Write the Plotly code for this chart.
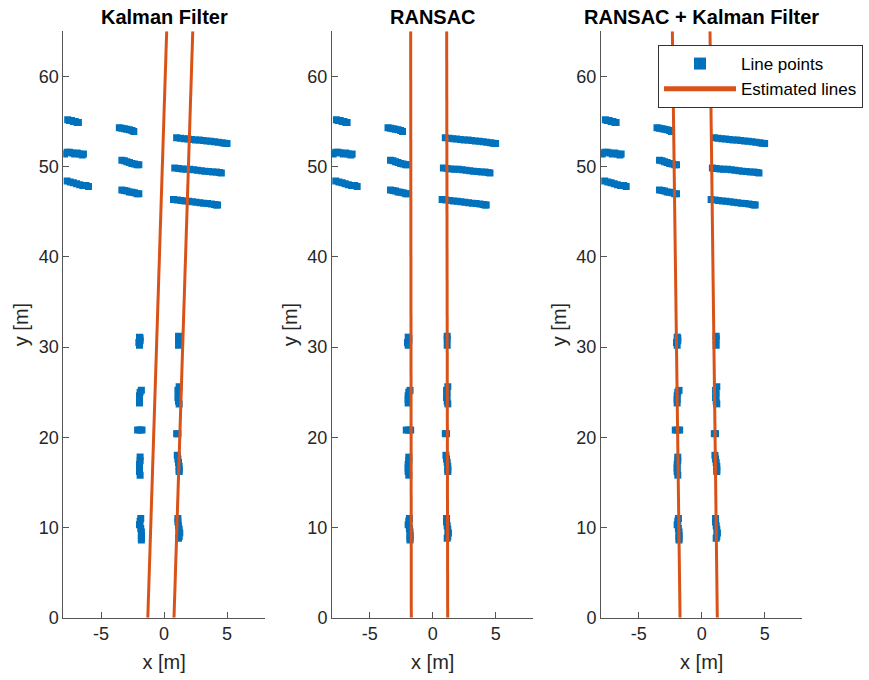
import plotly.graph_objects as go

# ---------------- data ----------------
# upper (far) line-point clusters
upper_x = [
    -7.65, -7.5, -7.35, -7.2, -7.05, -6.9, -6.8,
    -7.9, -7.7, -7.5, -7.3, -7.1, -6.9, -6.7, -6.5, -6.4,
    -7.7, -7.45, -7.2, -6.95, -6.7, -6.45, -6.2, -6.0,
    -3.55, -3.35, -3.15, -2.95, -2.75, -2.55, -2.4,
    -3.35, -3.15, -2.95, -2.75, -2.55, -2.35, -2.15, -2.0,
    -3.35, -3.15, -2.95, -2.75, -2.55, -2.35, -2.15, -2.0,
    1.0, 1.3, 1.6, 1.9, 2.2, 2.5, 2.8, 3.1, 3.4, 3.7, 4.0, 4.3, 4.6, 4.8, 5.0,
    0.85, 1.15, 1.45, 1.75, 2.05, 2.35, 2.65, 2.95, 3.25, 3.55, 3.85, 4.15, 4.4, 4.55,
    0.75, 1.05, 1.35, 1.65, 1.95, 2.25, 2.55, 2.85, 3.15, 3.45, 3.75, 4.0, 4.15, 4.25,
]
upper_y = [
    55.2, 55.1, 55.1, 55.0, 55.0, 54.9, 54.9,
    51.4, 51.6, 51.6, 51.5, 51.4, 51.5, 51.4, 51.3, 51.4,
    48.4, 48.3, 48.2, 48.1, 48.0, 47.9, 47.9, 47.8,
    54.3, 54.25, 54.2, 54.15, 54.1, 54.0, 53.9,
    50.7, 50.65, 50.55, 50.45, 50.35, 50.3, 50.2, 50.2,
    47.4, 47.35, 47.3, 47.2, 47.15, 47.1, 47.0, 47.0,
    53.2, 53.15, 53.1, 53.05, 53.0, 52.95, 52.95, 52.9, 52.85, 52.8, 52.75, 52.7, 52.65, 52.6, 52.55,
    49.85, 49.8, 49.75, 49.7, 49.7, 49.65, 49.6, 49.55, 49.5, 49.45, 49.4, 49.4, 49.35, 49.3,
    46.35, 46.3, 46.25, 46.2, 46.15, 46.1, 46.05, 46.0, 45.95, 45.9, 45.85, 45.8, 45.75, 45.75,
]
# lower (near) line-point clusters
lower_x = [
    -1.95, -2.0, -1.9, -1.9, -1.95,
    -1.95, -1.95, -1.95, -1.9, -1.8,
    -2.1, -1.9, -1.75,
    -1.9, -1.9, -1.95, -1.95, -1.95, -1.9,
    -1.85, -1.9, -1.95, -1.85, -1.8, -1.8, -1.8, -1.8,
    1.15, 1.15, 1.15,
    1.2, 1.1, 1.15, 1.1, 1.15, 1.2,
    1.0, 1.1,
    1.05, 1.1, 1.15, 1.2, 1.2, 1.2,
    1.1, 1.1, 1.15, 1.2, 1.25, 1.2, 1.15,
]
lower_y = [
    30.2, 30.5, 30.7, 31.0, 31.1,
    23.8, 24.2, 24.6, 25.0, 25.2,
    20.8, 20.8, 20.8,
    17.8, 17.4, 17.0, 16.6, 16.2, 15.8,
    11.0, 10.7, 10.3, 9.9, 9.5, 9.1, 8.8, 8.6,
    31.2, 30.9, 30.2,
    25.6, 25.2, 24.8, 24.4, 24.0, 23.7,
    20.4, 20.4,
    18.0, 17.6, 17.2, 16.8, 16.4, 16.2,
    11.0, 10.6, 10.2, 9.8, 9.4, 9.0, 8.8,
]

line_y = [0, 65]
kalman_left_x = [-1.29, 0.21]
kalman_right_x = [0.79, 2.28]
ransac_left_x = [-1.70, -1.75]
ransac_right_x = [1.19, 1.11]
rk_left_x = [-1.72, -2.33]
rk_right_x = [1.24, 0.66]

titles = ["Kalman Filter", "RANSAC", "RANSAC + Kalman Filter"]
x_ticks = [-5, 0, 5]
x_tick_labels = ["-5", "0", "5"]
y_ticks = [0, 10, 20, 30, 40, 50, 60]

# ---------------- style ----------------
BLUE = "#0072BD"
ORANGE = "#D95319"
FONT = "Liberation Sans, Arial, sans-serif"
TXT = "#262626"
AX = "#555555"

W, H = 869, 680
x_domains = [(63.3 / W, 264.8 / W), (332.0 / W, 533.4 / W), (601.0 / W, 802.4 / W)]
y_domain = (1 - 617.7 / H, 1 - 31.3 / H)

pts_x = upper_x + lower_x
pts_y = upper_y + lower_y
line_sets = [
    (kalman_left_x, kalman_right_x),
    (ransac_left_x, ransac_right_x),
    (rk_left_x, rk_right_x),
]

fig = go.Figure()
for i in range(3):
    sfx = "" if i == 0 else str(i + 1)
    xa, ya = "x" + sfx, "y" + sfx
    fig.add_trace(go.Scatter(
        x=pts_x, y=pts_y, mode="markers", xaxis=xa, yaxis=ya,
        marker=dict(symbol="square", size=7, color=BLUE, line=dict(width=0)),
        name="Line points", showlegend=(i == 2), legendrank=1,
    ))
    for j, lx in enumerate(line_sets[i]):
        fig.add_trace(go.Scatter(
            x=lx, y=line_y, mode="lines", xaxis=xa, yaxis=ya,
            line=dict(color=ORANGE, width=3),
            name="Estimated lines", showlegend=(i == 2 and j == 0), legendrank=2,
        ))

axis_common = dict(
    showgrid=False, zeroline=False, showline=True, linecolor=AX, linewidth=1,
    ticks="inside", ticklen=6, tickcolor=AX, tickwidth=1,
    tickfont=dict(family=FONT, size=18, color=TXT),
    mirror=False, automargin=False,
)
layout = dict(
    width=W, height=H, margin=dict(l=0, r=0, t=0, b=0),
    paper_bgcolor="white", plot_bgcolor="white",
    font=dict(family=FONT, color=TXT),
    showlegend=True,
    legend=dict(
        x=658 / W, y=1 - 45 / H, xanchor="left", yanchor="top",
        bgcolor="white", bordercolor="#333333", borderwidth=1,
        font=dict(family=FONT, size=17, color="black"),
        itemwidth=72, itemsizing="constant", tracegroupgap=0,
    ),
)
annotations = []
for i in range(3):
    sfx = "" if i == 0 else str(i + 1)
    layout["xaxis" + sfx] = dict(
        axis_common, domain=list(x_domains[i]), range=[-8, 8],
        tickvals=x_ticks, ticktext=x_tick_labels,
        anchor="y" + sfx,
        title=dict(text="x [m]", font=dict(family=FONT, size=20, color=TXT), standoff=11),
    )
    layout["yaxis" + sfx] = dict(
        axis_common, domain=list(y_domain), range=[0, 65], tickvals=y_ticks,
        anchor="x" + sfx,
        title=dict(text="y [m]", font=dict(family=FONT, size=20, color=TXT), standoff=4),
    )
    annotations.append(dict(
        text="<b>" + titles[i] + "</b>", xref="paper", yref="paper",
        x=sum(x_domains[i]) / 2, y=1 - 17 / H, xanchor="center", yanchor="middle",
        showarrow=False, font=dict(family=FONT, size=20, color="black"),
    ))
layout["annotations"] = annotations
fig.update_layout(**layout)

fig.write_html("out.html")
